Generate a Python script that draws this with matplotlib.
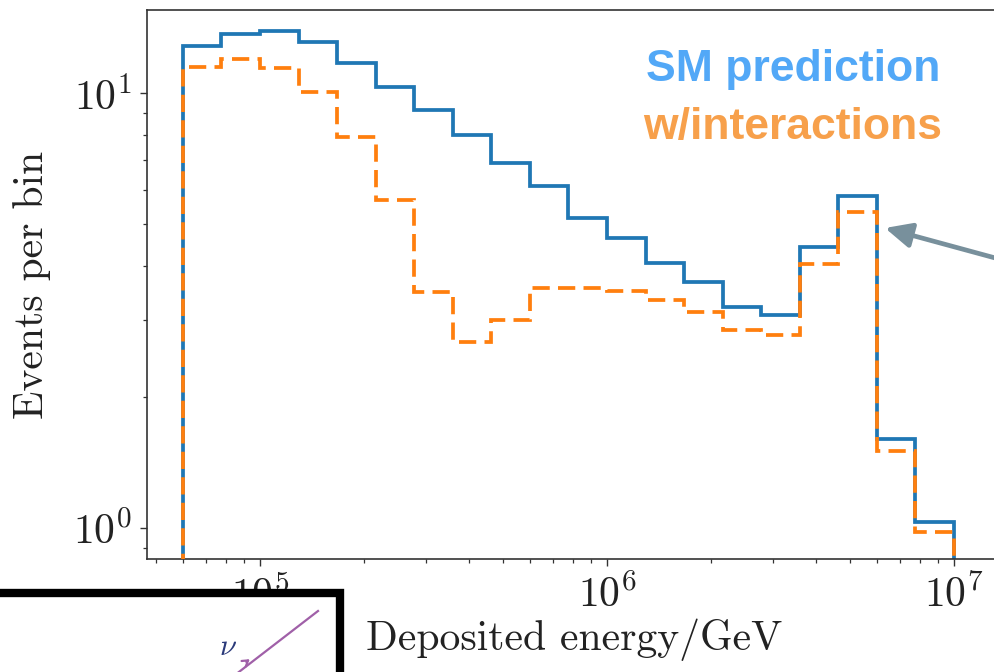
import numpy as np
import matplotlib
matplotlib.use("Agg")
import matplotlib.pyplot as plt
from matplotlib.patches import Rectangle, FancyArrowPatch
from matplotlib.lines import Line2D
from matplotlib.ticker import NullFormatter

plt.rcParams["mathtext.fontset"] = "cm"
plt.rcParams["font.family"] = ["cmr10", "DejaVu Serif"]
plt.rcParams["axes.formatter.use_mathtext"] = True

# 20 log-spaced energy bins from 10^(5-2/9) GeV to 10^7 GeV
bin_edges = np.logspace(5 - 2 / 9, 7, 21)

sm_prediction = [12.8, 13.7, 13.9, 13.1, 11.7, 10.3, 9.14, 8.01, 6.90, 6.11,
                 5.16, 4.64, 4.06, 3.68, 3.22, 3.09, 4.43, 5.80, 1.60, 1.03]
with_interactions = [11.5, 12.0, 11.4, 10.05, 7.92, 5.68, 3.49, 2.68, 3.01, 3.57,
                     3.57, 3.50, 3.34, 3.14, 2.85, 2.78, 4.05, 5.33, 1.50, 0.98]

W, H = 994, 672
fig = plt.figure(figsize=(W / 100, H / 100), dpi=100)

left_px, right_px, top_px, bottom_px = 147, 1002, 10, 559
ax = fig.add_axes([left_px / W, 1 - bottom_px / H,
                   (right_px - left_px) / W, (bottom_px - top_px) / H])
ax.set_xscale("log")
ax.set_yscale("log")

# pixel <-> data mapping of the log axes
def px_to_x(px):
    return 10 ** (5 + (px - 260) / 347)

def px_to_y(py):
    return 10 ** ((528 - py) / 435)

ax.set_xlim(px_to_x(left_px), px_to_x(right_px))
ax.set_ylim(px_to_y(bottom_px), px_to_y(top_px))

lw = 2.7
ax.stairs(sm_prediction, bin_edges, baseline=1e-3, color="#1f77b4", lw=lw, zorder=2)
ax.stairs(with_interactions, bin_edges, baseline=1e-3, color="#ff7f0e", lw=lw,
          ls=(0, (4.6, 2.2)), zorder=3)

for side in ["left", "bottom", "top"]:
    ax.spines[side].set_color("#333333")
    ax.spines[side].set_linewidth(1.2)
ax.spines["right"].set_visible(False)

ax.tick_params(which="major", direction="out", length=5, width=1.0,
               labelsize=30, colors="#333333", labelcolor="#222222", pad=6)
ax.tick_params(which="minor", direction="out", length=3, width=0.9, colors="#333333")
ax.yaxis.set_minor_formatter(NullFormatter())
ax.xaxis.set_minor_formatter(NullFormatter())

ax.set_xlabel("Deposited energy/GeV", fontsize=30, color="#222222", labelpad=2)
ax.set_ylabel("Events per bin", fontsize=30, color="#222222", labelpad=16)

# overlay labels
ax.text(793, H - 70, "SM prediction", transform=None, ha="center", va="center",
        fontsize=32, fontweight="bold", family="Liberation Sans", color="#52A8F7")
ax.text(793, H - 127, "w/interactions", transform=None, ha="center", va="center",
        fontsize=32, fontweight="bold", family="Liberation Sans", color="#F7A04B")

# arrow pointing at the resonance bin
ax.annotate("", xy=(px_to_x(885), px_to_y(228)), xytext=(px_to_x(1010), px_to_y(262)),
            xycoords="data", textcoords="data", annotation_clip=False,
            arrowprops=dict(arrowstyle="-|>,head_length=1.6,head_width=0.75",
                            color="#78909C", lw=3.4, shrinkA=0, shrinkB=0))

# inset frame with a neutrino line
box = Rectangle((-12 / W, -20 / H), (340 + 12) / W, (H - 593 + 20) / H,
                transform=fig.transFigure, facecolor="white", edgecolor="black",
                lw=6, zorder=10)
fig.add_artist(box)
nu_line = Line2D([235 / W, 318 / W], [(H - 675) / H, (H - 611) / H],
                 transform=fig.transFigure, color="#A060A8", lw=1.6, zorder=11)
fig.add_artist(nu_line)
mark = FancyArrowPatch((244 / W, (H - 663.5) / H), (252 / W, (H - 657.5) / H),
                       transform=fig.transFigure, arrowstyle="->,head_length=4,head_width=2.5",
                       color="#A060A8", lw=1.6, zorder=11)
fig.add_artist(mark)
fig.text(228 / W, (H - 647) / H, r"$\nu$", ha="center", va="center", fontsize=22,
         color="#2B3A7A", zorder=12)

fig.savefig("out.png", dpi=100)
